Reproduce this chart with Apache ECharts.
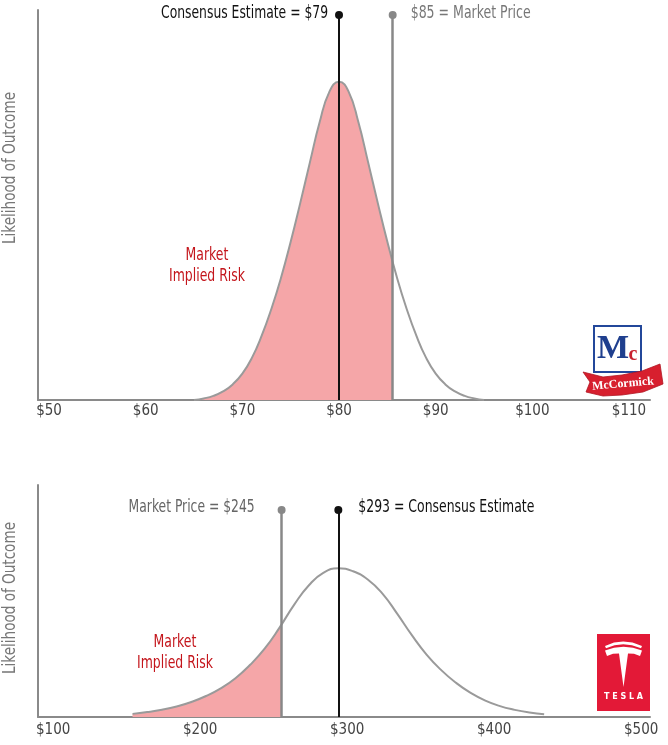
<!DOCTYPE html>
<html>
<head>
<meta charset="utf-8">
<script src="https://cdn.jsdelivr.net/npm/echarts@6/dist/echarts.min.js"></script>
<style>
html,body{margin:0;padding:0;background:#ffffff;}
#chart{width:668px;height:745px;}
</style>
</head>
<body>
<div id="chart"></div>
<script>
// ================= DATA =================
// McCormick (top panel)
const mkcPrices = [65,66,67,68,69,70,71,72,73,74,75,76,77,78,79,80,81,82,83,84,85,86,87,88,89,90,91,92,93,94,95];
const mkcLikelihood = [0,0.5,1.3,2.7,4.9,8.3,13.3,20.2,28.6,38.4,49.7,62,74.8,87.3,96.8,100,96.8,87.3,74.8,62,49.7,38.4,28.6,20.2,13.3,8.3,4.9,2.7,1.3,0.5,0];
const mkcTicks = [50,60,70,80,90,100,110];
const mkcConsensusAt = 80;      // where the line is drawn
const mkcMarketAt = 85.55;      // where the line is drawn
const mkcConsensusLabel = 'Consensus Estimate = $79';
const mkcMarketLabel = '$85 = Market Price';

// Tesla (bottom panel)
const tslaPrices = [154,164,174,184,194,204,214,224,234,244,254,264,274,284,294,304,314,324,334,344,354,364,374,384,394,404,414,424,434];
const tslaLikelihood = [2.1,3.3,4.9,7.1,10.1,14.1,19.3,26.1,35.1,46.1,60.1,75.6,88.6,97.1,100,98,92.5,83,69.5,55,42,31.5,23,16.2,11,7.3,4.8,3.0,1.8];
const tslaTicks = [100,200,300,400,500];
const tslaConsensusAt = 294;
const tslaMarketAt = 255.4;
const tslaMarketLabel = 'Market Price = $245';
const tslaConsensusLabel = '$293 = Consensus Estimate';

const yTitle = 'Likelihood of Outcome';
const riskLabel = 'Market\nImplied Risk';

// ================= STYLE / LAYOUT =================
const FONT = "'Liberation Sans Narrow','DejaVu Sans Condensed','Roboto Condensed',sans-serif";
const PINK = '#f5a6a8';
const RED_TXT = '#c4161c';
const AXIS_GREY = '#8a8a8a';
const CURVE_GREY = '#9a9a9a';

const L = {
  top:    {grid:{left:38, top:10, width:612, height:390, outerBoundsMode:'none'}, xMin:48.86, xMax:112.17, yMax:122.5, dotY:120.9},
  bottom: {grid:{left:38, top:485, width:612, height:232, outerBoundsMode:'none'}, xMin:89.7, xMax:506, yMax:156, dotY:139.2}
};

function pairs(xs, ys){ return xs.map((x,i)=>[x, ys[i]]); }

function vLine(x, top, color, width){
  return [{coord:[x,0], lineStyle:{color:color,width:width,type:'solid'}}, {coord:[x,top]}];
}
function dot(x, top, color){
  return {coord:[x, top], symbol:'circle', symbolSize:8, itemStyle:{color:color}, label:{show:false}};
}

function xAxisCfg(idx, lay, ticks, margin){
  return {
    type:'value', gridIndex:idx, min:lay.xMin, max:lay.xMax,
    axisLine:{show:true, onZero:false, lineStyle:{color:AXIS_GREY, width:2}},
    axisTick:{show:false},
    splitLine:{show:false},
    axisLabel:{show:true, customValues:ticks, formatter:v=>'$'+v, color:'#444',
               fontFamily:FONT, fontSize:15, margin:margin,
               showMinLabel:true, showMaxLabel:true}
  };
}
function yAxisCfg(idx, lay){
  return {
    type:'value', gridIndex:idx, min:0, max:lay.yMax,
    axisLine:{show:true, lineStyle:{color:AXIS_GREY, width:2}},
    axisTick:{show:false}, axisLabel:{show:false}, splitLine:{show:false}
  };
}
function curveSeries(idx, xs, ys, cons, mkt, dotY){
  return {
    type:'line', xAxisIndex:idx, yAxisIndex:idx, smooth:true, symbol:'none', silent:true,
    data:pairs(xs, ys),
    lineStyle:{color:CURVE_GREY, width:2},
    areaStyle:{opacity:1},
    z:2,
    markLine:{silent:true, symbol:['none','none'], label:{show:false}, animation:false,
      data:[vLine(cons, dotY, '#111', 2), vLine(mkt, dotY, '#888', 2.5)]},
    markPoint:{silent:true, animation:false,
      data:[dot(cons, dotY, '#111'), dot(mkt, dotY, '#888')]}
  };
}

const option = {
  animation:false,
  backgroundColor:'#ffffff',
  grid:[L.top.grid, L.bottom.grid],
  xAxis:[xAxisCfg(0, L.top, mkcTicks, 4), xAxisCfg(1, L.bottom, tslaTicks, 6)],
  yAxis:[yAxisCfg(0, L.top), yAxisCfg(1, L.bottom)],
  visualMap:[
    {type:'piecewise', show:false, seriesIndex:0, dimension:0,
     pieces:[{gte:0, lte:mkcMarketAt, color:PINK}], outOfRange:{color:'rgba(255,255,255,0)'}},
    {type:'piecewise', show:false, seriesIndex:1, dimension:0,
     pieces:[{gte:0, lte:tslaMarketAt, color:PINK}], outOfRange:{color:'rgba(255,255,255,0)'}}
  ],
  series:[
    curveSeries(0, mkcPrices, mkcLikelihood, mkcConsensusAt, mkcMarketAt, L.top.dotY),
    curveSeries(1, tslaPrices, tslaLikelihood, tslaConsensusAt, tslaMarketAt, L.bottom.dotY)
  ]
};

const chart = echarts.init(document.getElementById('chart'), null, {renderer:'canvas'});
chart.setOption(option);

// ---- condensed text helpers (text squeezed horizontally to mimic a condensed face) ----
const measureCtx = document.createElement('canvas').getContext('2d');
function widthOf(text, size){
  measureCtx.font = size + 'px ' + FONT;
  return Math.max.apply(null, text.split('\n').map(t => measureCtx.measureText(t).width));
}
function squeezed(text, size, targetW, x, y, align, color, extra){
  const s = Math.min(1, targetW / widthOf(text, size));
  return Object.assign({
    type:'text', x:x, y:y, scaleX:s, silent:true, z:100,
    style:{text:text, x:0, y:0, align:align, verticalAlign:'middle', fill:color,
           font:size + 'px ' + FONT, lineHeight:Math.round(size*1.25)}
  }, extra || {});
}
function px(grid, x, y){ return chart.convertToPixel({gridIndex:grid}, [x, y]); }

const pTopCons = px(0, mkcConsensusAt, L.top.dotY);
const pTopMkt  = px(0, mkcMarketAt, L.top.dotY);
const pBotCons = px(1, tslaConsensusAt, L.bottom.dotY);
const pBotMkt  = px(1, tslaMarketAt, L.bottom.dotY);

const graphics = [
  // labels beside the dots
  squeezed(mkcConsensusLabel, 18, 167, pTopCons[0] - 11, pTopCons[1] - 2, 'right', '#111'),
  squeezed(mkcMarketLabel,    18, 120, pTopMkt[0] + 18,  pTopMkt[1] - 2,  'left',  '#777'),
  squeezed(tslaMarketLabel,   18, 126, pBotMkt[0] - 27,  pBotMkt[1] - 3,  'right', '#666'),
  squeezed(tslaConsensusLabel,18, 176, pBotCons[0] + 20, pBotCons[1] - 3, 'left',  '#111'),
  // y-axis titles
  squeezed(yTitle, 17, 152, 11, 168, 'center', '#777', {rotation:Math.PI/2}),
  squeezed(yTitle, 17, 152, 11, 598, 'center', '#777', {rotation:Math.PI/2}),
  // annotation texts
  squeezed(riskLabel, 17, 76, 207, 266, 'center', RED_TXT),
  squeezed(riskLabel, 17, 76, 175, 653, 'center', RED_TXT),
  // McCormick logo
  {type:'group', silent:true, children:[
    {type:'rect', shape:{x:594, y:326, width:47, height:46}, style:{fill:'#fff', stroke:'#23479a', lineWidth:2}},
    {type:'text', style:{text:'M', x:613, y:349, align:'center', verticalAlign:'middle', fill:'#1f3f8e', font:'bold 34px "Liberation Serif", serif'}},
    {type:'text', style:{text:'c', x:633, y:355, align:'center', verticalAlign:'middle', fill:'#c8202f', font:'bold 20px "Liberation Serif", serif'}},
    {type:'polygon', shape:{points:[[583,372],[603,377],[622,375],[642,371],[660,364],[663,384],[643,392],[622,395],[603,396],[586,392],[590,382]]},
     style:{fill:'#d71f2e', stroke:'#b01522', lineWidth:0.8}},
    {type:'text', rotation:0.09, x:623, y:384, style:{text:'McCormick', x:0, y:0, align:'center', verticalAlign:'middle', fill:'#fff', font:'bold 12px "Liberation Serif", serif'}}
  ]},
  // Tesla logo
  {type:'group', silent:true, children:[
    {type:'rect', shape:{x:597, y:634, width:53, height:77}, style:{fill:'#e31937'}},
    {type:'polygon', shape:{points:[[605,646],[614,642.6],[623.3,641.5],[632.5,642.6],[642,646],[641,648.3],[632,645.3],[623.3,644.2],[614.5,645.3],[606,648.3]]}, style:{fill:'#fff'}},
    {type:'polygon', shape:{points:[[605,650.5],[614,647.7],[623.5,646.8],[633,647.7],[642,650.5],[640,656],[634,653.8],[628,653.5],[623.5,687],[619,653.5],[613,653.8],[607,656]]}, style:{fill:'#fff'}},
    {type:'text', style:{text:'T E S L A', x:623.5, y:697, align:'center', verticalAlign:'middle', fill:'#fff', font:'bold 8px "DejaVu Sans", sans-serif'}}
  ]}
];
chart.setOption({graphic:graphics});
</script>
</body>
</html>
